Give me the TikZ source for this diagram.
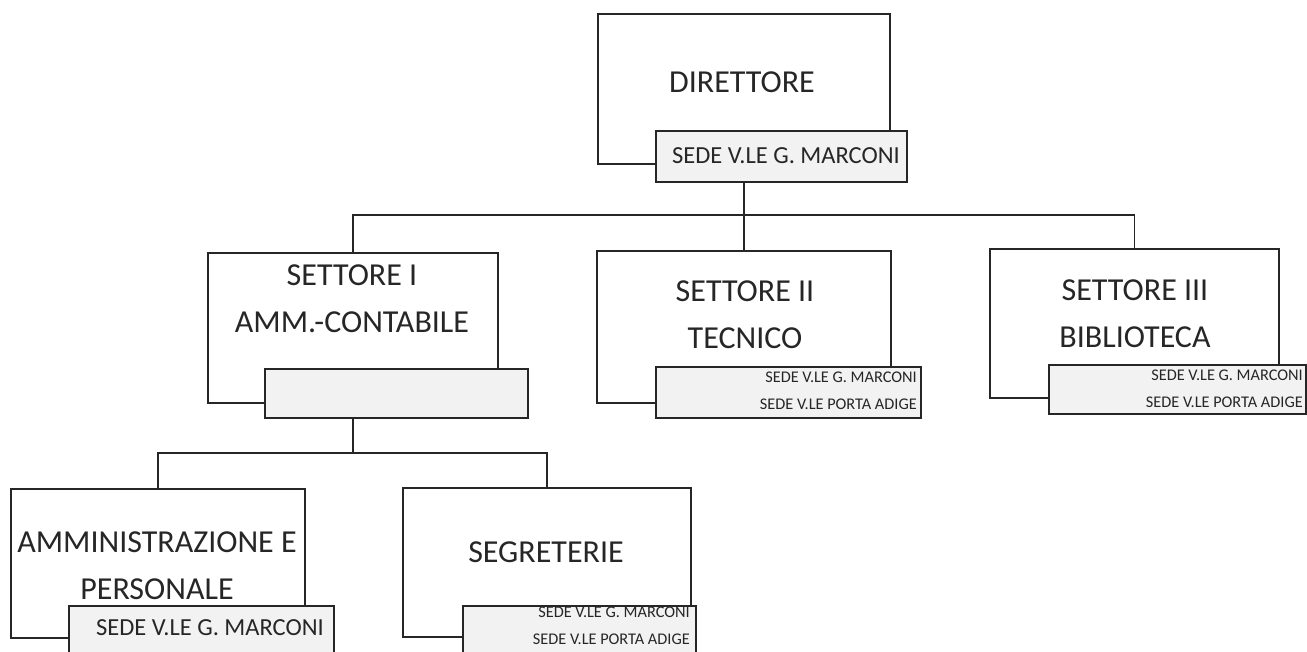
\documentclass[tikz,border=0pt]{standalone}
\usepackage{fontspec}
\setmainfont{Carlito}
\begin{document}
\begin{tikzpicture}[x=1pt,y=-1pt,
  box/.style={draw=black!85, line width=1.6pt, fill=white, inner sep=0pt, anchor=north west},
  sedebox/.style={draw=black!85, line width=1.6pt, fill=black!5, inner sep=0pt, anchor=north west},
  conn/.style={draw=black!85, line width=1.6pt},
  bigtxt/.style={font=\fontsize{32}{47}\selectfont, align=center, inner sep=0pt, text=black!85},
  midtxt/.style={font=\fontsize{24.5}{28}\selectfont, inner sep=0pt, text=black!85},
  smalltxt/.style={font=\fontsize{16.3}{26.5}\selectfont, align=right, inner sep=0pt, anchor=east, text=black!85}]
\useasboundingbox (0,0) rectangle (1307,651);
\clip (0,0) rectangle (1307,651);
\fill[white] (0,0) rectangle (1307,651);
% bus coordinates
\coordinate (bus1) at (743,215);
\coordinate (bus2) at (352,453);
% boxes
\node[box, minimum width=292pt, minimum height=150pt] (dir) at (597,13) {};
\node[box, minimum width=290pt, minimum height=150pt] (s1) at (207,252) {};
\node[box, minimum width=294pt, minimum height=152pt] (s2) at (596,250) {};
\node[box, minimum width=289pt, minimum height=149pt] (s3) at (989,248) {};
\node[box, minimum width=294pt, minimum height=149pt] (amm) at (10,488) {};
\node[box, minimum width=288pt, minimum height=149pt] (seg) at (402,487) {};
% connectors
\draw[conn] (dir.south) -- (dir.south |- s2.north);
\draw[conn] (s1.north) |- (bus1) -| (s3.north);
\draw[conn] (s1.south) -- (s1.south |- bus2);
\draw[conn] (amm.north) |- (s1.south |- bus2) -| (seg.north);
% sede boxes
\node[sedebox, minimum width=251pt, minimum height=51pt] (sD) at (655,130) {};
\node[sedebox, minimum width=263pt, minimum height=49pt] (s1s) at (264,368) {};
\node[sedebox, minimum width=265pt, minimum height=51pt] (s2s) at (655,366) {};
\node[sedebox, minimum width=257pt, minimum height=49pt] (s3s) at (1048,364) {};
\node[sedebox, minimum width=265pt, minimum height=65pt] (amms) at (68,605) {};
\node[sedebox, minimum width=233pt, minimum height=65pt] (segs) at (462,605) {};
% texts
\node[bigtxt] (tdir) at (742,82) {DIRETTORE};
\node[midtxt] (tsD) at (786,156) {SEDE V.LE G. MARCONI};
\node[bigtxt] (ts1) at (352,299) {SETTORE I\\AMM.-CONTABILE};
\node[bigtxt] (ts2) at (745,315) {SETTORE II\\TECNICO};
\node[bigtxt] (ts3) at (1135,314) {SETTORE III\\BIBLIOTECA};
\node[bigtxt] (tamm) at (157,566) {AMMINISTRAZIONE E\\PERSONALE};
\node[bigtxt] (tseg) at (546,552) {SEGRETERIE};
\node[midtxt] (tamms) at (210,628) {SEDE V.LE G. MARCONI};
\node[smalltxt] (ts2s) at (917,391) {SEDE V.LE G. MARCONI\\SEDE V.LE PORTA ADIGE};
\node[smalltxt] (ts3s) at (1303,389) {SEDE V.LE G. MARCONI\\SEDE V.LE PORTA ADIGE};
\node[smalltxt] (tsegs) at (690,626) {SEDE V.LE G. MARCONI\\SEDE V.LE PORTA ADIGE};
\end{tikzpicture}
\end{document}
